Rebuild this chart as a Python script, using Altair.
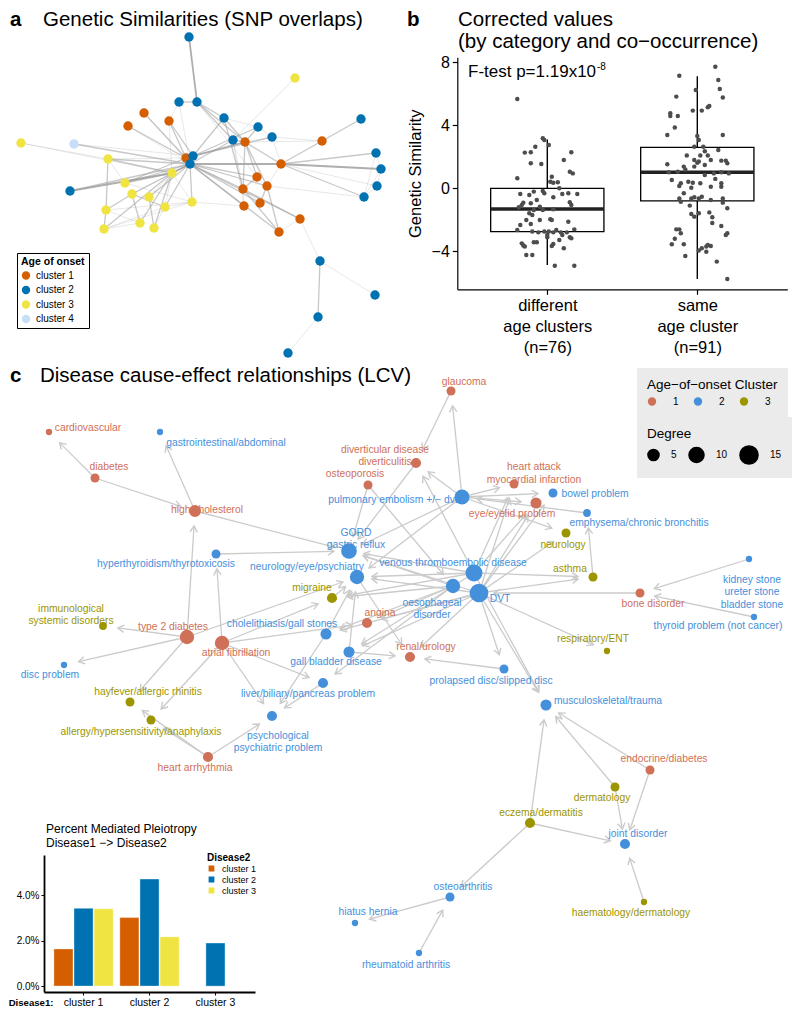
import math
import altair as alt
import pandas as pd

FONT = "Liberation Sans"
W, H = 784, 1000
ORIGIN = 8  # layout coordinates below are read in page pixels

# ---------------- panel a : SNP-overlap network ----------------
A_X = [189,295,179,197,144,169,224,128,361,258,272,233,245,322,21,74,186,193,190,108,376,281,381,172,257,125,267,377,70,132,149,243,364,192,260,165,244,106,300,140,154,104,279,320,375,318,288]
A_Y = [37,78,102,102,113,121,118,126,119,127,137,140,142,141,143,144,158,156,164,159,153,164,169,173,177,183,186,186,191,194,197,189,197,202,203,207,206,210,219,223,228,229,232,261,295,317,353]
A_CLUSTER = [2,3,2,2,1,1,2,1,2,2,2,2,1,1,3,4,1,2,2,3,2,1,2,3,1,3,1,2,2,3,3,1,2,3,1,3,1,3,1,3,3,3,1,2,2,2,2]
A_EDGES = [(1,4,3),(3,4,2),(4,7,2),(4,12,2),(4,13,2),(4,25,1),(3,19,1),(3,6,1),(6,18,2),(5,17,2),(8,17,2),(6,24,1),
           (7,18,2),(7,13,2),(7,32,2),(10,18,2),(10,13,2),(11,18,2),(11,13,1),(11,22,1),(12,19,2),(13,18,3),(13,32,2),
           (13,25,2),(13,27,2),(13,22,2),(14,9,2),(14,22,2),(2,12,1),(15,24,1),(16,19,2),(16,18,1),(29,24,3),(29,19,2),
           (20,19,2),(20,24,2),(20,38,2),(20,26,1),(26,19,2),(26,24,2),(26,34,1),(30,19,2),(30,36,2),(30,40,2),(31,41,2),
           (31,19,2),(36,19,2),(38,42,2),(38,30,2),(38,34,1),(42,40,1),(42,34,1),(42,24,2),(40,24,2),(41,24,2),(41,36,1),
           (34,19,2),(34,37,1),(22,19,3),(22,21,2),(22,23,3),(22,33,2),(22,28,1),(21,23,1),(23,28,1),(28,33,1),(33,21,1),
           (27,33,1),(25,19,2),(25,32,2),(27,35,2),(27,43,2),(27,19,2),(32,43,2),(32,19,2),(35,19,2),(37,19,2),(39,19,2),
           (39,32,2),(43,19,2),(39,44,1),(44,45,1),(44,46,2),(46,47,1),(17,18,3),(17,19,3),(12,32,1),(12,37,1),(24,19,3),
           (36,34,1),(10,7,1),(11,14,1),(5,19,1),(8,19,1),(20,17,1),(26,17,2),(30,24,1),(31,24,1),(36,24,1),(34,24,1),
           (27,25,1),(35,32,1),(37,32,1),(43,39,1),(22,27,1),(14,13,1),(11,10,1),(12,13,2),(6,17,2),(23,33,1),
           (38,40,1),(42,36,1),(15,20,1)]
A_LABELS = ["cluster 1", "cluster 2", "cluster 3", "cluster 4"]
A_COLORS = ["#D55E00", "#0072B2", "#F0E442", "#C6DEF7"]

# ---------------- panel b : corrected genetic similarity ----------------
B_POS = [1, 2]
B_TICKLABELS = [["different", "age clusters", "(n=76)"], ["same", "age cluster", "(n=91)"]]
B_LO = [-4.87, -5.76]
B_Q1 = [-2.75, -0.80]
B_MED = [-1.31, 1.02]
B_Q3 = [0.0, 2.60]
B_HI = [3.11, 7.12]
# (jitter, value) pairs
B_DIFF = [(-0.20,5.68),(-0.03,3.18),(-0.02,3.07),(0.01,2.75),(-0.08,2.65),(-0.15,2.27),(-0.11,2.29),(0.16,2.29),
          (0.11,1.80),(-0.11,1.59),(-0.04,1.55),(0.15,1.06),(0.17,0.95),(-0.20,0.64),(0.03,0.74),(0.02,0.42),
          (0.04,0.36),(0.07,0.38),(-0.18,-0.36),(-0.09,-0.21),(-0.03,-0.17),(-0.12,-0.42),(-0.02,-0.32),(0.10,-0.36),
          (0.14,-0.32),(0.20,-0.36),(0.04,-0.57),(-0.16,-0.91),(-0.11,-0.95),(-0.17,-1.06),(-0.05,-1.17),(0.15,-0.89),
          (0.16,-1.06),(-0.09,-1.38),(-0.03,-1.38),(0.04,-1.33),(-0.12,-1.59),(-0.19,-1.21),(-0.10,-1.69),(-0.14,-2.01),
          (-0.05,-2.01),(0.02,-1.97),(0.03,-2.01),(0.14,-2.12),(-0.11,-2.27),(-0.18,-2.33),(0.06,-2.65),(0.18,-2.61),
          (-0.10,-2.75),(-0.02,-2.75),(0.01,-2.75),(0.04,-2.80),(0.09,-2.80),(0.13,-2.80),(-0.06,-2.80),(0.00,-2.97),
          (0.00,-3.11),(0.10,-2.97),(0.15,-3.11),(0.08,-3.28),(0.16,-3.18),(-0.17,-3.50),(-0.09,-3.43),(-0.07,-3.43),
          (-0.16,-3.64),(-0.15,-3.70),(0.03,-3.67),(0.04,-3.54),(-0.14,-4.24),(-0.10,-4.24),(0.05,-4.92),(0.18,-4.92),
          (-0.07,-0.74),(0.08,0.0),(0.11,-3.81),(-0.20,-2.65)]
B_SAME = [(0.12,7.73),(-0.12,7.16),(0.14,6.89),(-0.01,6.25),(0.15,6.31),(0.17,5.78),(-0.14,5.83),(0.08,5.23),
          (0.07,5.15),(0.03,4.94),(-0.03,4.94),(-0.18,4.77),(-0.18,4.60),(-0.13,4.60),(-0.15,3.86),(0.17,3.39),
          (-0.20,3.39),(0.00,3.33),(0.01,3.07),(-0.02,2.65),(0.04,2.65),(0.14,2.44),(-0.07,2.08),(0.02,2.08),
          (0.07,2.08),(-0.02,1.80),(0.00,1.63),(0.01,1.70),(0.09,1.80),(0.16,1.76),(0.19,1.76),(0.20,1.59),
          (-0.20,1.53),(0.05,1.48),(-0.09,1.38),(-0.02,1.38),(-0.13,1.06),(-0.19,1.02),(0.11,0.95),(0.16,1.02),
          (0.21,0.95),(0.05,0.85),(-0.17,0.53),(-0.06,0.42),(-0.11,0.32),(-0.03,0.36),(0.02,0.32),(0.16,0.32),
          (-0.12,0.15),(0.09,0.10),(-0.04,0.04),(0.16,0.10),(-0.09,-0.32),(0.17,-0.64),(-0.12,-0.64),(-0.11,-0.85),
          (-0.04,-0.64),(-0.02,-0.57),(0.01,-0.64),(0.03,-0.53),(0.09,-0.74),(0.17,-0.91),(0.01,-1.59),(0.08,-1.53),
          (-0.04,-1.63),(-0.02,-1.80),(0.10,-1.84),(0.20,-1.27),(0.16,-2.39),(-0.14,-2.61),(-0.12,-2.61),(-0.11,-2.86),
          (0.19,-2.97),(0.20,-2.86),(-0.17,-3.56),(-0.09,-3.56),(0.07,-3.60),(0.09,-3.67),(0.06,-3.70),(0.03,-3.81),
          (0.01,-3.96),(0.06,-4.03),(-0.08,-4.30),(0.13,-4.66),(0.20,-5.76),(0.05,2.35),(-0.08,1.20),(0.12,0.60),
          (-0.05,-1.10),(0.10,-2.20),(-0.15,-3.20)]
B_DOMAIN = [-6.42, 8.33]
BOX_WIDTH = 0.755

# ---------------- panel c : LCV cause-effect network ----------------
C_NAMES = ["cardiovascular", "gastrointestinal/abdominal", "diabetes", "high cholesterol", "GORD\ngastric reflux",
           "hyperthyroidism/thyrotoxicosis", "neurology/eye/psychiatry", "migraine", "immunological\nsystemic disorders",
           "type 2 diabetes", "atrial fibrillation", "cholelithiasis/gall stones", "angina", "renal/urology",
           "gall bladder disease", "liver/biliary/pancreas problem", "disc problem", "hayfever/allergic rhinitis",
           "allergy/hypersensitivity/anaphylaxis", "psychological\npsychiatric problem", "heart arrhythmia", "glaucoma",
           "diverticular disease\ndiverticulitis", "osteoporosis", "pulmonary embolism +/\u2212 dvt",
           "heart attack\nmyocardial infarction", "bowel problem", "eye/eyelid problem", "emphysema/chronic bronchitis",
           "neurology", "asthma", "venous thromboembolic disease", "oesophageal\ndisorder", "DVT", "bone disorder",
           "kidney stone\nureter stone\nbladder stone", "thyroid problem (not cancer)", "respiratory/ENT",
           "prolapsed disc/slipped disc", "musculoskeletal/trauma", "endocrine/diabetes", "dermatology",
           "eczema/dermatitis", "joint disorder", "osteoarthritis", "haematology/dermatology", "hiatus hernia",
           "rheumatoid arthritis"]
C_X = [49,160,95,195,349,216,357,332,103,187,222,326,367,410,349,323,64,130,151,272,208,451,416,368,462,514,553,536,587,566,593,474,453,479,640,749,754,607,504,546,650,615,530,625,450,644,355,419]
C_Y = [432,432,478,511,551,554,577,598,626,637,643,634,623,657,652,683,665,702,720,716,757,391,463,485,497,484,493,503,513,533,577,573,586,593,593,559,617,651,669,705,770,787,823,844,897,902,923,953]
C_CLUSTER = [1,2,1,1,2,2,2,3,3,1,1,2,1,1,2,2,2,3,3,2,1,1,1,1,2,1,2,1,2,3,3,2,2,2,1,2,2,3,2,2,1,3,3,2,2,3,2,2]
C_DEGREE = [1,1,3,6,11,3,9,4,2,9,9,5,4,4,5,4,1,3,3,4,4,3,4,3,10,3,3,5,2,3,3,13,9,16,3,1,1,1,3,5,3,3,4,4,3,1,1,1]
C_LABEL_X = [88,226,109,207,356,166,307,312,71,173,236,282,380,426,336,308,50,148,141,278,195,464,385,355,393,534,595,512,639,563,570,453,432,500,653,752,718,593,491,608,664,602,541,638,463,631,368,406]
C_LABEL_Y = [428,443,467,510,532.5,564,567,588,608.5,627,653,624,613,647,662,694,675,692,732,735.5,768,382,449.5,474,500,467,494,514,523,545,569,563,602.5,599,604,579.5,626,639,681,701,759,798,813,834,887,913,912,965]
C_EDGES = [(3,1),(3,4),(4,2),(4,5),(10,4),(6,5),(11,6),(10,9),(10,17),(10,18),(11,19),(21,18),(21,19),(21,20),
           (10,7),(11,8),(11,13),(11,16),(11,20),(12,7),(12,20),(15,7),(15,14),(16,20),(33,16),(8,7),(7,14),(33,13),
           (32,5),(34,5),(33,5),(25,5),(32,7),(34,7),(33,8),(34,12),(32,15),(34,15),(24,5),(24,33),(23,5),(22,23),
           (25,22),(25,23),(32,23),(25,26),(25,27),(25,28),(25,30),(29,25),(31,29),(34,26),(32,26),(34,28),(32,28),
           (34,27),(34,30),(34,31),(32,31),(35,34),(36,35),(37,35),(34,38),(34,39),(39,14),(34,40),(32,40),(41,40),
           (42,40),(43,40),(41,44),(42,44),(43,44),(46,44),(43,45),(48,45),(45,47),(34,14),(25,7),(33,12),(32,8),(34,13)]
C_LEVELS = ["1", "2", "3"]
C_COLORS = ["#CF7058", "#4590DB", "#9C9500"]
C_DEGREE_TICKS = [5, 10, 15]

# ---------------- inset : percent mediated pleiotropy ----------------
P_CLUSTERS = ["cluster 1", "cluster 2", "cluster 3"]
P_D1 = ["cluster 1", "cluster 1", "cluster 1", "cluster 2", "cluster 2", "cluster 2", "cluster 3"]
P_D2 = ["cluster 1", "cluster 2", "cluster 3", "cluster 1", "cluster 2", "cluster 3", "cluster 2"]
P_VAL = [0.0164, 0.0343, 0.0341, 0.0302, 0.0472, 0.0217, 0.0190]
P_COLORS = ["#D55E00", "#0072B2", "#F0E442"]

# ======================================================================
LX = alt.Scale(domain=[ORIGIN, ORIGIN + W], range=[0, W])
LY = alt.Scale(domain=[ORIGIN, ORIGIN + H], range=[0, H])

# ---- panel a
a_nodes = pd.DataFrame({"x": A_X, "y": A_Y, "cluster": [A_LABELS[c - 1] for c in A_CLUSTER]})
a_edges = pd.DataFrame([{"x": A_X[i - 1], "y": A_Y[i - 1], "x2": A_X[j - 1], "y2": A_Y[j - 1], "w": w}
                        for i, j, w in A_EDGES])
edgesA = alt.Chart(a_edges).mark_rule(color="#A0A0A0").encode(
    x=alt.X("x:Q", scale=LX, axis=None), y=alt.Y("y:Q", scale=LY, axis=None),
    x2="x2:Q", y2="y2:Q",
    opacity=alt.Opacity("w:Q", scale=alt.Scale(domain=[1, 3], range=[0.3, 0.85]), legend=None),
    strokeWidth=alt.StrokeWidth("w:Q", scale=alt.Scale(domain=[1, 3], range=[0.8, 1.8]), legend=None),
)
nodesA = alt.Chart(a_nodes).mark_circle(size=88, opacity=1).encode(
    x=alt.X("x:Q", scale=LX, axis=None), y=alt.Y("y:Q", scale=LY, axis=None),
    color=alt.Color("cluster:N", scale=alt.Scale(domain=A_LABELS, range=A_COLORS),
                    legend=alt.Legend(title="Age of onset", orient="none", legendX=9, legendY=245,
                                      titleFontSize=10.5, titleFontWeight="bold", titleColor="black",
                                      labelFontSize=10, labelColor="black", symbolSize=70, symbolType="circle",
                                      symbolOpacity=1, strokeColor="black", fillColor="white", padding=4,
                                      rowPadding=4.5, titlePadding=3, labelOffset=5)),
)
panelA = alt.layer(edgesA, nodesA)

# ---- panel b
BX = alt.Scale(domain=[0.4, 2.6], range=[449.3, 779.3])
BY = alt.Scale(domain=B_DOMAIN, range=[281.3, 49.3])
lab_expr = "datum.value == 1 ? " + str(B_TICKLABELS[0]) + " : " + str(B_TICKLABELS[1])
B_XAXIS = alt.Axis(orient="bottom", offset=281.3 - H, values=B_POS, labelExpr=lab_expr, labelFontSize=16.5,
                   labelLineHeight=21, labelColor="black", tickSize=5, tickColor="black", tickWidth=1.2,
                   domainColor="black", domainWidth=1.2, title=None, grid=False, labelPadding=3,
                   labelBaseline="top", labelFont=FONT)
B_YAXIS = alt.Axis(orient="left", offset=-449.3, values=[-4, 0, 4, 8], labelFontSize=16, labelColor="black",
                   tickSize=5, tickColor="black", tickWidth=1.2, domainColor="black", domainWidth=1.2,
                   title="Genetic Similarity", titleFontSize=16.5, titleFontWeight="normal", titleColor="black",
                   grid=False, titlePadding=8, labelPadding=3)
box_df = pd.DataFrame({"pos": B_POS, "lo": B_LO, "q1": B_Q1, "med": B_MED, "q3": B_Q3, "hi": B_HI})
box_df["left"] = box_df["pos"] - BOX_WIDTH / 2
box_df["right"] = box_df["pos"] + BOX_WIDTH / 2
pts = pd.DataFrame([{"px": 1 + j, "v": v} for j, v in B_DIFF] + [{"px": 2 + j, "v": v} for j, v in B_SAME])

whisk = alt.Chart(box_df).mark_rule(color="black", strokeWidth=1.4).encode(
    x=alt.X("pos:Q", scale=BX, axis=B_XAXIS), y=alt.Y("lo:Q", scale=BY, axis=B_YAXIS), y2="hi:Q")
boxes = alt.Chart(box_df).mark_bar(fill="white", stroke="black", strokeWidth=1.3).encode(
    x=alt.X("left:Q", scale=BX, axis=B_XAXIS), x2="right:Q",
    y=alt.Y("q1:Q", scale=BY, axis=B_YAXIS), y2="q3:Q")
meds = alt.Chart(box_df).mark_rule(color="#222222", strokeWidth=3.5).encode(
    x=alt.X("left:Q", scale=BX, axis=B_XAXIS), x2="right:Q", y=alt.Y("med:Q", scale=BY, axis=B_YAXIS))
dots = alt.Chart(pts).mark_circle(size=20, color="#4D4D4D", opacity=1).encode(
    x=alt.X("px:Q", scale=BX, axis=B_XAXIS), y=alt.Y("v:Q", scale=BY, axis=B_YAXIS))
panelB = alt.layer(whisk, boxes, meds, dots)

# ---- panel c
CAP = 15
c_nodes = pd.DataFrame({"x": C_X, "y": C_Y, "cluster": [C_LEVELS[c - 1] for c in C_CLUSTER], "deg": C_DEGREE,
                        "name": C_NAMES, "lx": C_LABEL_X, "ly": C_LABEL_Y,
                        "hex": [C_COLORS[c - 1] for c in C_CLUSTER]})
erows = []
for s, t in C_EDGES:
    sx, sy, tx, ty = C_X[s - 1], C_Y[s - 1], C_X[t - 1], C_Y[t - 1]
    dx, dy = tx - sx, ty - sy
    L = math.hypot(dx, dy)
    erows.append({"x": sx, "y": sy, "ex": tx - dx / L * CAP, "ey": ty - dy / L * CAP,
                  "ang": math.degrees(math.atan2(dy, dx)) % 360})
c_edges = pd.DataFrame(erows)
EDGE_GREY = "#CBCBCB"
LEG_GREY = "#EBEBEB"
edgesC = alt.Chart(c_edges).mark_rule(color=EDGE_GREY, strokeWidth=1.3).encode(
    x=alt.X("x:Q", scale=LX, axis=None), y=alt.Y("y:Q", scale=LY, axis=None), x2="ex:Q", y2="ey:Q")
arrowsC = alt.Chart(c_edges).mark_point(shape="M-1,-0.6L0,0L-1,0.6", size=150, filled=False,
                                        color=EDGE_GREY, strokeWidth=1.4, opacity=1).encode(
    x=alt.X("ex:Q", scale=LX, axis=None), y=alt.Y("ey:Q", scale=LY, axis=None),
    angle=alt.Angle("ang:Q", scale=None))
nodesC = alt.Chart(c_nodes).mark_circle(opacity=1).encode(
    x=alt.X("x:Q", scale=LX, axis=None), y=alt.Y("y:Q", scale=LY, axis=None),
    color=alt.Color("cluster:N", scale=alt.Scale(domain=C_LEVELS, range=C_COLORS),
                    legend=alt.Legend(title="Age\u2212of\u2212onset Cluster", orient="none", legendX=629,
                                      legendY=360, direction="horizontal", titleFontSize=13.5,
                                      titleFontWeight="normal", titleColor="black", labelFontSize=10,
                                      labelColor="black", symbolSize=70, symbolType="circle", symbolOpacity=1,
                                      fillColor=LEG_GREY, padding=10, labelOffset=16, columnPadding=14,
                                      titlePadding=5)),
    size=alt.Size("deg:Q", scale=alt.Scale(domain=[1, 16], range=[40, 350]),
                  legend=alt.Legend(title="Degree", values=C_DEGREE_TICKS, orient="none", legendX=629,
                                    legendY=409, direction="horizontal", titleFontSize=13.5,
                                    titleFontWeight="normal", titleColor="black", labelFontSize=10,
                                    labelColor="black", symbolType="circle", symbolFillColor="black",
                                    symbolStrokeColor="black", symbolOpacity=1, fillColor=LEG_GREY,
                                    padding=10, labelOffset=11, columnPadding=8, titlePadding=4)),
)
labelsC = alt.Chart(c_nodes).mark_text(fontSize=10.3, lineBreak="\n", lineHeight=12.5, align="center",
                                       baseline="middle", font=FONT).encode(
    x=alt.X("lx:Q", scale=LX, axis=None), y=alt.Y("ly:Q", scale=LY, axis=None),
    text="name:N", color=alt.Color("hex:N", scale=None))
panelC = alt.layer(edgesC, arrowsC, nodesC, labelsC)

# ---- inset bar chart
bar_df = pd.DataFrame({"d1": P_D1, "d2": P_D2, "v": P_VAL})
bars = alt.Chart(bar_df).mark_bar(stroke="white", strokeWidth=0.6, strokeOpacity=0.6).encode(
    x=alt.X("d1:N", sort=P_CLUSTERS,
            scale=alt.Scale(domain=P_CLUSTERS, range=[36, 247], paddingInner=0.1, paddingOuter=0.15),
            axis=alt.Axis(orient="bottom", offset=984 - H, title="Disease1:", titleFontWeight="bold",
                          titleFontSize=9.6, titleColor="black", titleX=45, titleY=5, titleAlign="right",
                          titleBaseline="top", titleAngle=0, labelFontSize=10.5, labelColor="black",
                          labelAngle=0, tickSize=3, tickColor="black", domainColor="black", domainWidth=1.8,
                          labelPadding=2)),
    xOffset=alt.XOffset("d2:N", scale=alt.Scale(domain=P_CLUSTERS, paddingInner=0.05)),
    y=alt.Y("v:Q", scale=alt.Scale(domain=[-0.0026, 0.0578], range=[984, 847]),
            axis=alt.Axis(orient="left", offset=-36, values=[0, 0.02, 0.04], format=".1%", labelFontSize=10,
                          labelColor="black", tickSize=3, tickColor="black", domainColor="black",
                          domainWidth=1.8, title=None, grid=False, labelPadding=2)),
    color=alt.Color("d2:N", scale=alt.Scale(domain=P_CLUSTERS, range=P_COLORS),
                    legend=alt.Legend(title="Disease2", orient="none", legendX=199, legendY=845,
                                      titleFontSize=10, titleFontWeight="bold", titleColor="black",
                                      labelFontSize=9, labelColor="black", symbolType="square",
                                      symbolSize=53, symbolOpacity=1, rowPadding=1, titlePadding=1,
                                      clipHeight=9, labelOffset=6, padding=0)),
)


# ---- titles / annotations
def note(text, x, y, size, weight="normal", line_height=None):
    props = dict(text=text, align="left", baseline="alphabetic", fontSize=size, fontWeight=weight,
                 color="black", font=FONT)
    if line_height:
        props["lineHeight"] = line_height
    return alt.Chart(alt.Data(values=[{}])).mark_text(**props).encode(x=alt.value(x), y=alt.value(y))


notes = [
    note("a", 2, 18, 20.5, "bold"),
    note("Genetic Similarities (SNP overlaps)", 35, 18, 20.5),
    note("b", 399, 18, 20.5, "bold"),
    note(["Corrected values", "(by category and co\u2212occurrence)"], 450, 18, 20.5, line_height=22),
    note("F-test p=1.19x10", 460, 69, 17),
    note("-8", 589, 62, 10),
    note("c", 2, 374, 20.5, "bold"),
    note("Disease cause-effect relationships (LCV)", 32, 374, 20.5),
    note(["Percent Mediated Pleiotropy", "Disease1 \u2212> Disease2"], 38, 825, 12, line_height=14),
]

chart = alt.layer(panelA, panelB, panelC, bars, *notes).resolve_scale(
    x="independent", y="independent", color="independent", size="independent",
    opacity="independent", strokeWidth="independent", xOffset="independent",
).properties(
    width=W, height=H, padding=0, autosize=alt.AutoSizeParams(type="none")
).configure(font=FONT).configure_view(stroke=None)

chart.save("out.html", embed_options={"renderer": "svg", "actions": False})
